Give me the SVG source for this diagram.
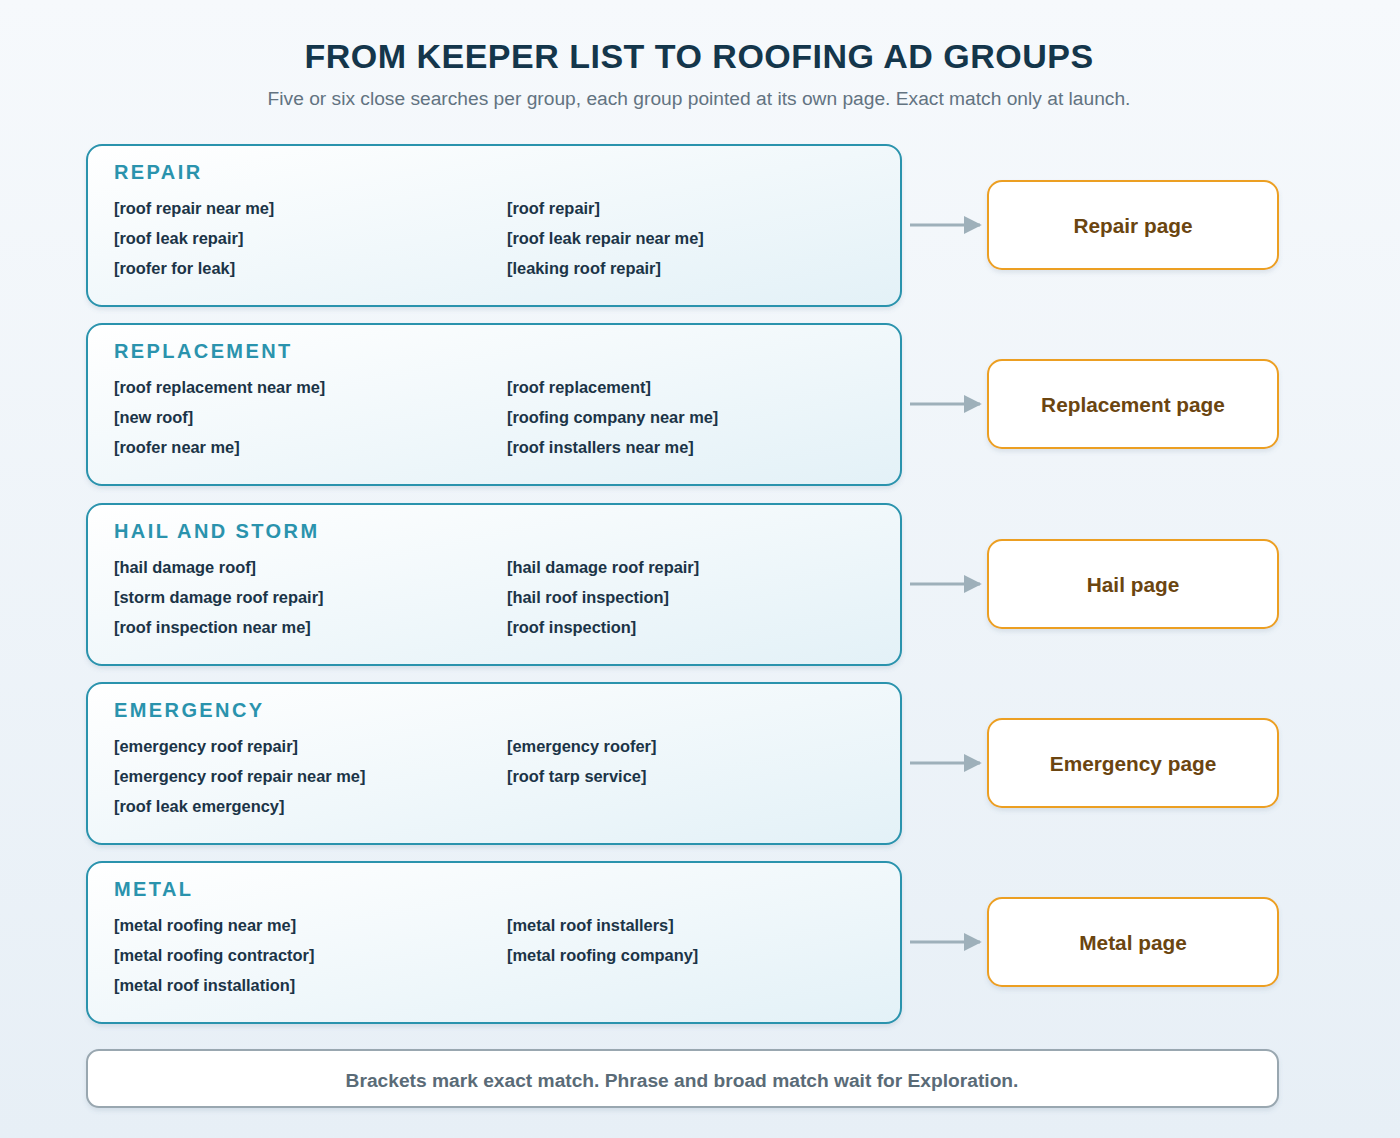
<svg xmlns="http://www.w3.org/2000/svg" width="1400" height="1138" viewBox="0 0 1400 1138">
<defs>
<linearGradient id="bg" x1="0" y1="0" x2="0" y2="1">
<stop offset="0" stop-color="#f6f9fc"/>
<stop offset="1" stop-color="#e7eff6"/>
</linearGradient>
<linearGradient id="gfill" x1="0" y1="0" x2="1" y2="1">
<stop offset="0" stop-color="#ffffff"/>
<stop offset="1" stop-color="#e3f1f7"/>
</linearGradient>
<marker id="arr" viewBox="0 0 10 10" refX="9" refY="5" markerWidth="6" markerHeight="6" markerUnits="strokeWidth" orient="auto">
<path d="M0,0 L10,5 L0,10 z" fill="#9eb0ba"/>
</marker>
<filter id="sh" x="-5%" y="-10%" width="110%" height="130%">
<feDropShadow dx="0" dy="3" stdDeviation="2" flood-color="#5a7a90" flood-opacity="0.15"/>
</filter>
</defs>
<style>
.title{font-family:"Liberation Sans",Arial,sans-serif;font-weight:bold;font-size:34px;fill:#14364b;letter-spacing:0.5px}
.sub{font-family:"Liberation Sans",Arial,sans-serif;font-size:19.2px;fill:#627381}
.gbox{fill:url(#gfill);stroke:#2a93ad;stroke-width:2;filter:url(#sh)}
.gtitle{font-family:"Liberation Sans",Arial,sans-serif;font-weight:bold;font-size:20px;fill:#2a93ad;letter-spacing:2.4px}
.kw{font-family:"Liberation Sans",Arial,sans-serif;font-weight:bold;font-size:16.4px;fill:#1b3447}
.pbox{fill:#ffffff;stroke:#ec9f22;stroke-width:2;filter:url(#sh)}
.ptext{font-family:"Liberation Sans",Arial,sans-serif;font-weight:bold;font-size:20.8px;fill:#6b4510;text-anchor:middle}
.conn{stroke:#9eb0ba;stroke-width:3;fill:none;marker-end:url(#arr)}
.fbox{fill:#ffffff;stroke:#99a7b0;stroke-width:2;filter:url(#sh)}
.ftext{font-family:"Liberation Sans",Arial,sans-serif;font-weight:bold;font-size:19.2px;fill:#5a6b77;text-anchor:middle}
</style>
<rect width="1400" height="1138" fill="url(#bg)"/>
<text class="title" x="699" y="68" text-anchor="middle">FROM KEEPER LIST TO ROOFING AD GROUPS</text>
<text class="sub" x="699" y="105" text-anchor="middle">Five or six close searches per group, each group pointed at its own page. Exact match only at launch.</text>

<g id="group-repair">
<rect class="gbox" x="87" y="145" width="814" height="161" rx="15"/>
<text class="gtitle" x="114" y="179">REPAIR</text>
<text class="kw" x="114" y="214">[roof repair near me]</text>
<text class="kw" x="507" y="214">[roof repair]</text>
<text class="kw" x="114" y="244">[roof leak repair]</text>
<text class="kw" x="507" y="244">[roof leak repair near me]</text>
<text class="kw" x="114" y="274">[roofer for leak]</text>
<text class="kw" x="507" y="274">[leaking roof repair]</text>
</g>
<g id="group-replacement">
<rect class="gbox" x="87" y="324" width="814" height="161" rx="15"/>
<text class="gtitle" x="114" y="358">REPLACEMENT</text>
<text class="kw" x="114" y="393">[roof replacement near me]</text>
<text class="kw" x="507" y="393">[roof replacement]</text>
<text class="kw" x="114" y="423">[new roof]</text>
<text class="kw" x="507" y="423">[roofing company near me]</text>
<text class="kw" x="114" y="453">[roofer near me]</text>
<text class="kw" x="507" y="453">[roof installers near me]</text>
</g>
<g id="group-hail">
<rect class="gbox" x="87" y="504" width="814" height="161" rx="15"/>
<text class="gtitle" x="114" y="538">HAIL AND STORM</text>
<text class="kw" x="114" y="573">[hail damage roof]</text>
<text class="kw" x="507" y="573">[hail damage roof repair]</text>
<text class="kw" x="114" y="603">[storm damage roof repair]</text>
<text class="kw" x="507" y="603">[hail roof inspection]</text>
<text class="kw" x="114" y="633">[roof inspection near me]</text>
<text class="kw" x="507" y="633">[roof inspection]</text>
</g>
<g id="group-emergency">
<rect class="gbox" x="87" y="683" width="814" height="161" rx="15"/>
<text class="gtitle" x="114" y="717">EMERGENCY</text>
<text class="kw" x="114" y="752">[emergency roof repair]</text>
<text class="kw" x="507" y="752">[emergency roofer]</text>
<text class="kw" x="114" y="782">[emergency roof repair near me]</text>
<text class="kw" x="507" y="782">[roof tarp service]</text>
<text class="kw" x="114" y="812">[roof leak emergency]</text>
</g>
<g id="group-metal">
<rect class="gbox" x="87" y="862" width="814" height="161" rx="15"/>
<text class="gtitle" x="114" y="896">METAL</text>
<text class="kw" x="114" y="931">[metal roofing near me]</text>
<text class="kw" x="507" y="931">[metal roof installers]</text>
<text class="kw" x="114" y="961">[metal roofing contractor]</text>
<text class="kw" x="507" y="961">[metal roofing company]</text>
<text class="kw" x="114" y="991">[metal roof installation]</text>
</g>

<g id="page-repair">
<rect class="pbox" x="988" y="181" width="290" height="88" rx="14"/>
<text class="ptext" x="1133" y="233">Repair page</text>
</g>
<g id="page-replacement">
<rect class="pbox" x="988" y="360" width="290" height="88" rx="14"/>
<text class="ptext" x="1133" y="412">Replacement page</text>
</g>
<g id="page-hail">
<rect class="pbox" x="988" y="540" width="290" height="88" rx="14"/>
<text class="ptext" x="1133" y="592">Hail page</text>
</g>
<g id="page-emergency">
<rect class="pbox" x="988" y="719" width="290" height="88" rx="14"/>
<text class="ptext" x="1133" y="771">Emergency page</text>
</g>
<g id="page-metal">
<rect class="pbox" x="988" y="898" width="290" height="88" rx="14"/>
<text class="ptext" x="1133" y="950">Metal page</text>
</g>

<g id="connectors">
<line class="conn" x1="910" y1="225" x2="980" y2="225"/>
<line class="conn" x1="910" y1="404" x2="980" y2="404"/>
<line class="conn" x1="910" y1="584" x2="980" y2="584"/>
<line class="conn" x1="910" y1="763" x2="980" y2="763"/>
<line class="conn" x1="910" y1="942" x2="980" y2="942"/>
</g>

<g id="footer">
<rect class="fbox" x="87" y="1050" width="1191" height="57" rx="12"/>
<text class="ftext" x="682" y="1087">Brackets mark exact match. Phrase and broad match wait for Exploration.</text>
</g>
</svg>
